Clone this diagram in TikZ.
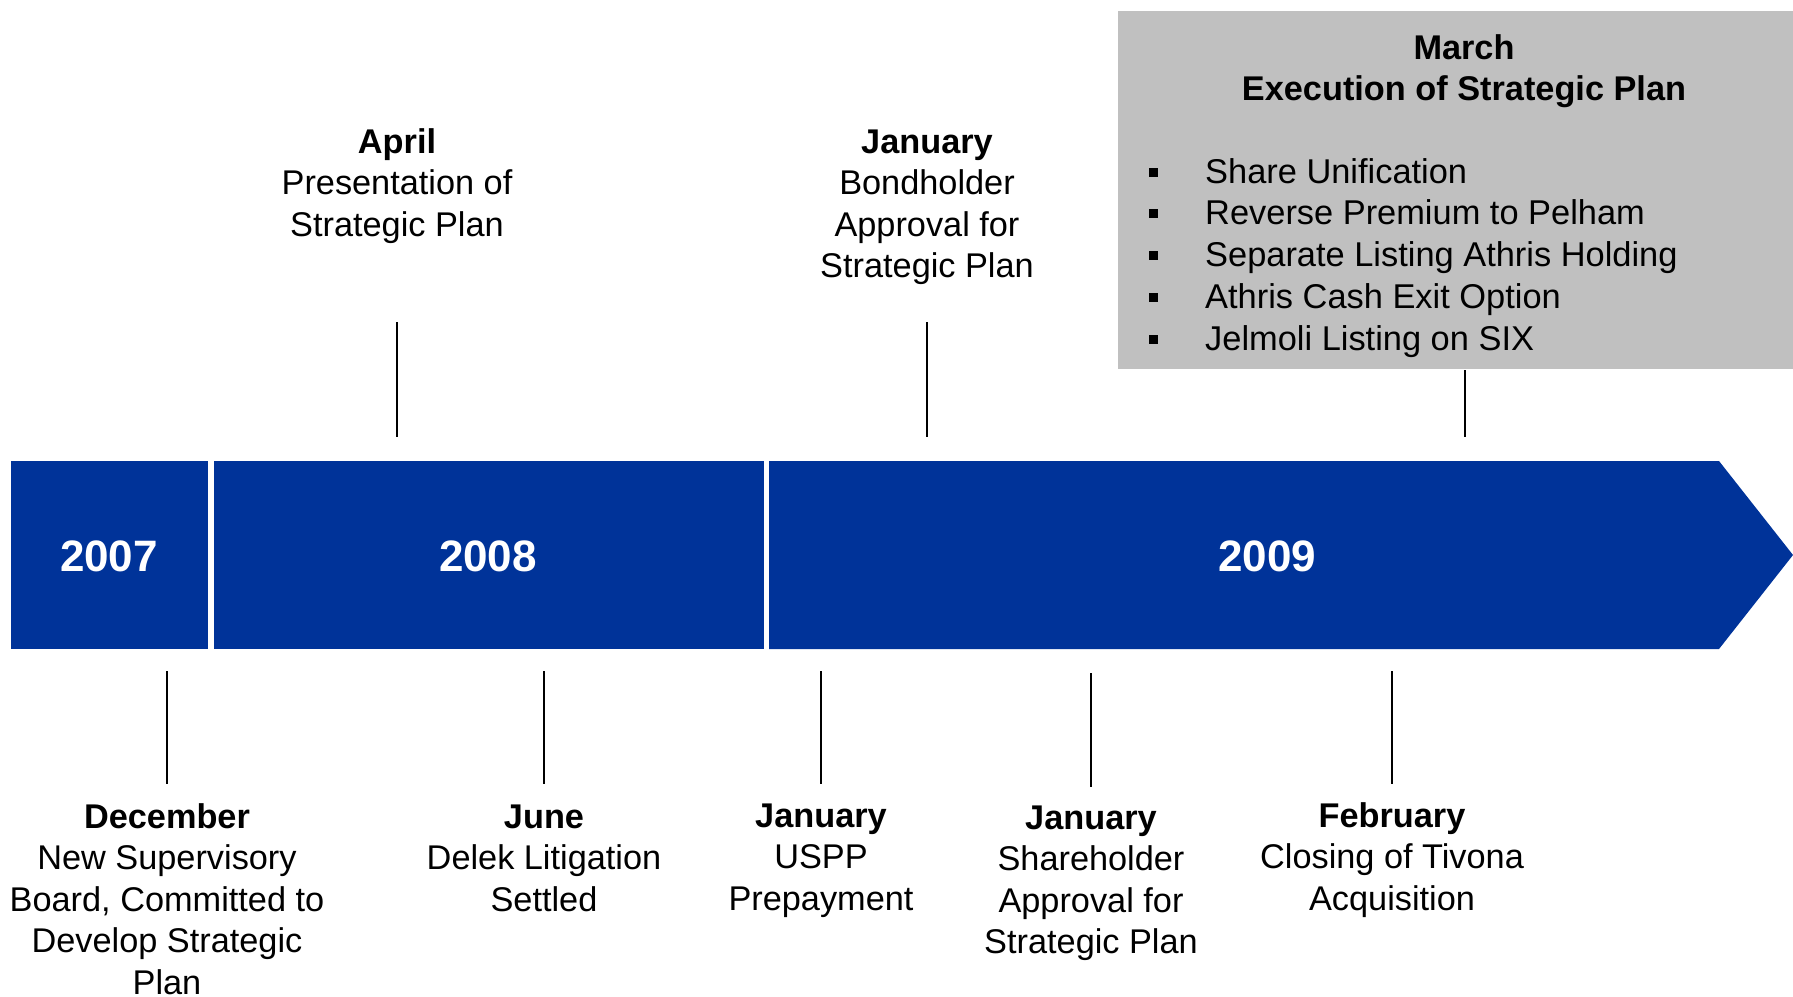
\documentclass[tikz,border=0pt]{standalone}
\usepackage{fontspec}
\setmainfont{Liberation Sans}
\definecolor{barblue}{RGB}{0,51,153}
\definecolor{panelgray}{RGB}{192,192,192}
\tikzset{
  lbl/.style={anchor=north, inner sep=0pt, align=center, font=\fontsize{34.3pt}{41.5pt}\selectfont},
  year/.style={anchor=center, inner sep=0pt, text=white, font=\fontsize{44pt}{50pt}\selectfont\bfseries},
  tick/.style={draw=black, line width=1.6pt},
  item/.style={anchor=base west, inner sep=0pt, font=\fontsize{34.4pt}{41pt}\selectfont},
  bulletsq/.style={fill=black, inner sep=0pt, minimum size=9pt}
}
\begin{document}
\begin{tikzpicture}[x=1pt,y=-1pt]
\useasboundingbox (0,0) rectangle (1793,996);

% timeline bar
\fill[barblue] (11,461) rectangle (208,649);
\fill[barblue] (214,461) rectangle (764,649);
\fill[barblue] (769,461) -- (1719,461) -- (1793,555) -- (1719,649) -- (769,649) -- cycle;
\node[year] (y2007) at (109,556) {2007};
\node[year] (y2008) at (488,556) {2008};
\node[year] (y2009) at (1267,556) {2009};

% grey panel
\fill[panelgray] (1118,11) rectangle (1793,369);
\node[lbl] (march) at (1464,30) {\strut\textbf{March}\\\textbf{Execution of Strategic Plan}};
\foreach \t [count=\i from 0] in {Share Unification,Reverse Premium to Pelham,Separate Listing Athris Holding,Athris Cash Exit Option,Jelmoli Listing on SIX}{
  \node[bulletsq] (b\i) at (1153,{172+41.75*\i}) {};
  \node[item] (t\i) at (1205,{183+41.75*\i}) {\t};
}

% upper events
\node[lbl] (apr) at (397,124) {\strut\textbf{April}\\Presentation of\\Strategic Plan};
\node[lbl] (jan1) at (927,124) {\strut\textbf{January}\\Bondholder\\Approval for\\Strategic Plan};

% lower events
\node[lbl] (dec) at (167,799) {\strut\textbf{December}\\New Supervisory\\Board, Committed to\\Develop Strategic\\Plan};
\node[lbl] (jun) at (544,799) {\strut\textbf{June}\\Delek Litigation\\Settled};
\node[lbl] (jan2) at (821,798) {\strut\textbf{January}\\USPP\\Prepayment};
\node[lbl] (jan3) at (1091,800) {\strut\textbf{January}\\Shareholder\\Approval for\\Strategic Plan};
\node[lbl] (feb) at (1392,798) {\strut\textbf{February}\\Closing of Tivona\\Acquisition};

% tick marks
\coordinate (ua1) at (397,322); \coordinate (ub1) at (397,437);
\coordinate (ua2) at (927,322); \coordinate (ub2) at (927,437);
\coordinate (ua3) at (1465,370); \coordinate (ub3) at (1465,437);
\draw[tick] (ua1) -- (ub1);
\draw[tick] (ua2) -- (ub2);
\draw[tick] (ua3) -- (ub3);
\coordinate (la1) at (167,671); \coordinate (lb1) at (167,784);
\coordinate (la2) at (544,671); \coordinate (lb2) at (544,784);
\coordinate (la3) at (821,671); \coordinate (lb3) at (821,784);
\coordinate (la4) at (1091,673); \coordinate (lb4) at (1091,787);
\coordinate (la5) at (1392,671); \coordinate (lb5) at (1392,784);
\foreach \k in {1,...,5}{\draw[tick] (la\k) -- (lb\k);}
\end{tikzpicture}
\end{document}
